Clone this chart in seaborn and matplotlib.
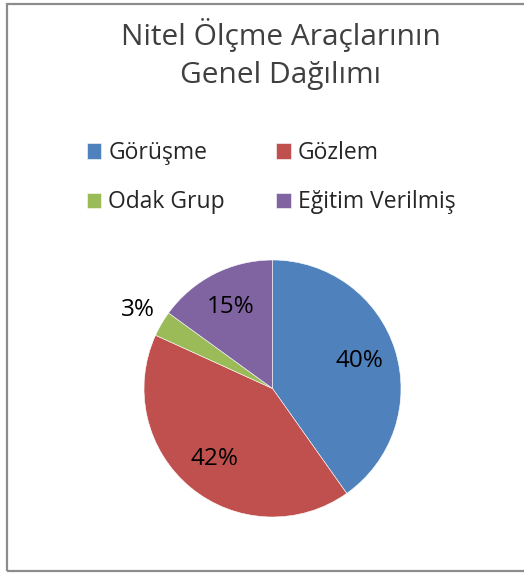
import matplotlib
matplotlib.use("Agg")
import matplotlib.pyplot as plt
import seaborn as sns
from matplotlib.patches import Rectangle
import numpy as np

# ---- data ----
categories = ["Görüşme", "Gözlem", "Odak Grup", "Eğitim Verilmiş"]
values = [40.2, 41.6, 3.2, 15.0]
pct_labels = ["40%", "42%", "3%", "15%"]
colors = ["#4F81BD", "#C0504D", "#9BBB59", "#8064A2"]
title_text = "Nitel Ölçme Araçlarının\nGenel Dağılımı"

sns.set_theme(style="white")
plt.rcParams["font.family"] = ["Open Sans", "DejaVu Sans"]

W, H = 524, 575
fig = plt.figure(figsize=(W / 100, H / 100), dpi=100)
fig.patch.set_facecolor("white")

# border
fig.patches.append(Rectangle((6.5 / W, (H - 571) / H), 1.2, (571 - 3.5) / H,
                             transform=fig.transFigure, fill=False,
                             edgecolor="#8c8c8c", linewidth=1.6, zorder=0))

# title
fig.text(281 / W, 1 - 54 / H, title_text, ha="center", va="center",
         fontsize=21.5, color="#404040", linespacing=1.44)

# pie axes
cx, cy, r = 272.5, 388.5, 128.5
ax = fig.add_axes([(cx - r) / W, (H - cy - r) / H, 2 * r / W, 2 * r / H])
wedges, texts, autotexts = ax.pie(
    values, colors=colors, startangle=90, counterclock=False,
    autopct="%1.0f%%", pctdistance=0.71,
    wedgeprops=dict(edgecolor="white", linewidth=0.4),
    textprops=dict(fontsize=17.5, color="black"))
for t, lab in zip(autotexts, pct_labels):
    t.set_text(lab)
# small slice label outside
w = wedges[2]
ang = np.deg2rad((w.theta1 + w.theta2) / 2)
autotexts[2].set_position((1.21 * np.cos(ang), 1.21 * np.sin(ang)))
ax.set_xlim(-1, 1)
ax.set_ylim(-1, 1)
ax.set_aspect("equal")
ax.axis("off")

# legend (row-wise order: matplotlib fills columns first)
order = [0, 2, 1, 3]
fig.legend([wedges[i] for i in order], [categories[i] for i in order],
           ncol=2, frameon=False, loc="upper left", borderpad=0,
           borderaxespad=0,
           bbox_to_anchor=(86.7 / W, 1 - 141 / H), fontsize=16.5,
           handlelength=0.64, handleheight=0.64, handletextpad=0.3,
           columnspacing=2.25, labelspacing=1.1)

fig.savefig("out.png", dpi=100)
